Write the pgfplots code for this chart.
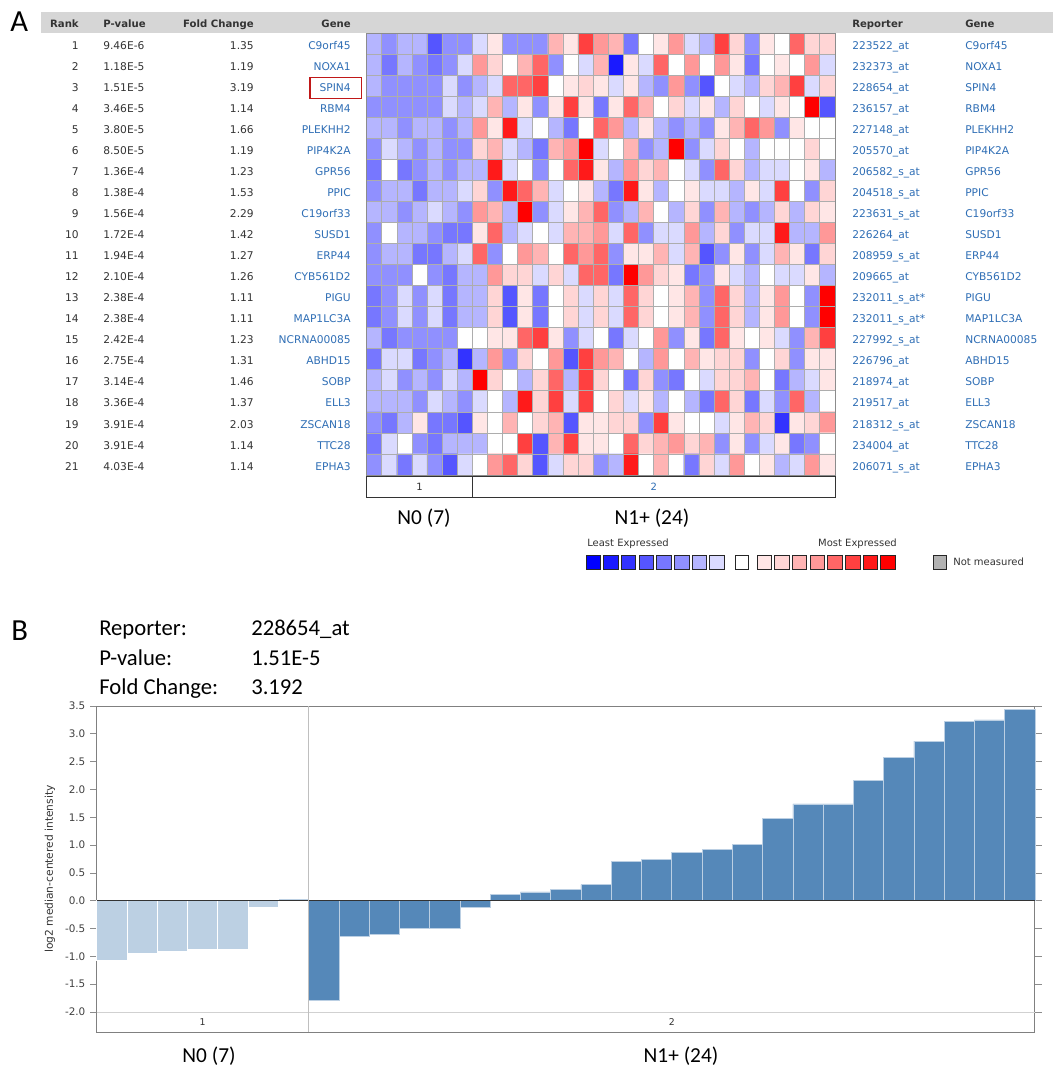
\documentclass[border=0pt]{standalone}
\usepackage{fontspec}
\setmainfont{DejaVu Sans}
\newfontfamily\calib{Carlito}
\usepackage{pgfplots}
\pgfplotsset{compat=1.18}
\definecolor{genebl}{RGB}{47,110,181}
\definecolor{txt}{RGB}{51,51,51}
\definecolor{hdr}{RGB}{214,214,214}
\definecolor{bardark}{RGB}{85,136,185}
\definecolor{barlight}{RGB}{188,208,227}
\definecolor{boxred}{RGB}{192,24,24}
\definecolor{h0}{RGB}{0,0,255}
\definecolor{h1}{RGB}{26,26,255}
\definecolor{h2}{RGB}{51,51,255}
\definecolor{h3}{RGB}{85,85,255}
\definecolor{h4}{RGB}{119,119,255}
\definecolor{h5}{RGB}{144,144,255}
\definecolor{h6}{RGB}{181,181,255}
\definecolor{h7}{RGB}{218,218,255}
\definecolor{h8}{RGB}{255,255,255}
\definecolor{h9}{RGB}{255,230,230}
\definecolor{h10}{RGB}{255,213,213}
\definecolor{h11}{RGB}{255,180,180}
\definecolor{h12}{RGB}{255,152,152}
\definecolor{h13}{RGB}{255,102,102}
\definecolor{h14}{RGB}{255,64,64}
\definecolor{h15}{RGB}{255,26,26}
\definecolor{h16}{RGB}{255,0,0}
\newcommand\tfont{\fontsize{8}{9.6}\selectfont}
\newcommand\hfont{\fontsize{7.6}{9}\selectfont\bfseries}
\newcommand\sfont{\fontsize{7.5}{9}\selectfont}
\begin{document}
\begin{tikzpicture}
\path[use as bounding box] (0,0) rectangle (789.75pt,-802.5pt);
\begin{scope}[x=0.75pt,y=-0.75pt]
\fill[hdr] (40.7,12.3) rectangle (1053,33.3);
\end{scope}
% ---------- heatmap ----------
\begin{axis}[
  at={(275.025pt,-24.975pt)}, anchor=north west,
  width=351.2pt, height=331.3pt, scale only axis,
  xmin=0.5, xmax=31.5, ymin=0.5, ymax=21.5, y dir=reverse,
  xtick={0.5,1.5,...,31.5}, ytick={0.5,1.5,...,21.5},
  xticklabels={}, yticklabels={}, major tick length=0pt,
  grid=major, major grid style={draw=black!32, line width=0.6pt},
  axis line style={draw=black!45, line width=0.6pt},
  axis on top,
  colormap={hm}{rgb255(0)=(0,0,255) rgb255(1)=(26,26,255) rgb255(2)=(51,51,255) rgb255(3)=(85,85,255) rgb255(4)=(119,119,255) rgb255(5)=(144,144,255) rgb255(6)=(181,181,255) rgb255(7)=(218,218,255) rgb255(8)=(255,255,255) rgb255(9)=(255,230,230) rgb255(10)=(255,213,213) rgb255(11)=(255,180,180) rgb255(12)=(255,152,152) rgb255(13)=(255,102,102) rgb255(14)=(255,64,64) rgb255(15)=(255,26,26) rgb255(16)=(255,0,0)},
  point meta min=-8, point meta max=8,
]
\addplot[matrix plot*, mesh/cols=31, point meta=explicit] table[row sep=\\, x expr={floor(mod(\coordindex+0.5,31))+1}, y expr={floor((\coordindex+0.5)/31)+1}, meta=v] {
v\\
-2\\ -3\\ -2\\ -2\\ -5\\ -3\\ -3\\ -1\\ 1\\ -3\\ -3\\ -3\\ 3\\ 1\\ 6\\ 4\\ 3\\ -4\\ 0\\ 1\\ 4\\ -1\\ -2\\ 6\\ 2\\ -3\\ 1\\ 0\\ 5\\ 2\\ 2\\
-2\\ -4\\ -2\\ -3\\ -4\\ -3\\ -1\\ 4\\ 2\\ 0\\ 3\\ 5\\ -3\\ 0\\ -1\\ 3\\ -7\\ 1\\ -1\\ 5\\ 0\\ 4\\ 0\\ 4\\ 1\\ -4\\ 0\\ 1\\ 0\\ 4\\ -1\\
-2\\ -3\\ -3\\ -3\\ -3\\ -1\\ -3\\ -2\\ -1\\ 5\\ 5\\ 6\\ 0\\ 1\\ 2\\ 1\\ -1\\ 1\\ -2\\ -3\\ 4\\ -3\\ -5\\ 0\\ -1\\ -2\\ 2\\ 3\\ 6\\ -1\\ 2\\
-3\\ -3\\ -3\\ -3\\ -3\\ -1\\ -2\\ -1\\ 3\\ -2\\ 1\\ -3\\ 1\\ 6\\ 1\\ -4\\ 1\\ 5\\ 3\\ 0\\ 2\\ -1\\ 1\\ -2\\ 2\\ 0\\ -1\\ 1\\ 0\\ 8\\ -5\\
-2\\ -2\\ -3\\ -2\\ -2\\ -3\\ -2\\ 4\\ 1\\ 7\\ -1\\ 0\\ -2\\ -4\\ 0\\ 5\\ 4\\ -2\\ 1\\ -2\\ -3\\ -2\\ -3\\ 1\\ 3\\ 5\\ 4\\ -3\\ 1\\ 0\\ 0\\
-3\\ -1\\ -2\\ -3\\ -2\\ -3\\ -3\\ 2\\ 3\\ -1\\ -2\\ -4\\ 3\\ 4\\ 8\\ -1\\ 0\\ 3\\ -3\\ -2\\ 8\\ -3\\ -1\\ 2\\ 0\\ -2\\ 0\\ 0\\ 0\\ 2\\ 0\\
-4\\ 0\\ -4\\ -3\\ -2\\ -3\\ -2\\ -2\\ 7\\ -1\\ 0\\ -3\\ 0\\ 5\\ 7\\ 1\\ -2\\ 4\\ 2\\ 3\\ 0\\ -1\\ -3\\ 5\\ 2\\ -2\\ -1\\ -1\\ 0\\ 1\\ -2\\
-3\\ -2\\ -2\\ -4\\ -2\\ -2\\ -1\\ 2\\ -3\\ 7\\ 5\\ 3\\ -1\\ 0\\ 1\\ -2\\ -4\\ 7\\ 1\\ -2\\ 0\\ 1\\ -1\\ -1\\ -2\\ 1\\ -1\\ 6\\ 0\\ -3\\ 2\\
-2\\ -2\\ -3\\ -2\\ -1\\ -2\\ -3\\ 4\\ 3\\ -2\\ 8\\ -3\\ -1\\ 1\\ 3\\ 5\\ -3\\ -2\\ 3\\ 0\\ -2\\ 2\\ -3\\ 3\\ -2\\ -3\\ -2\\ 2\\ -2\\ 2\\ 1\\
-3\\ 0\\ -2\\ -2\\ -3\\ -4\\ -4\\ 1\\ 5\\ -2\\ -1\\ 0\\ -1\\ 3\\ 3\\ 4\\ -1\\ 5\\ -3\\ -1\\ -1\\ 4\\ -2\\ 2\\ -3\\ -1\\ -1\\ 7\\ -2\\ -2\\ 4\\
-3\\ -2\\ -2\\ -4\\ -4\\ -2\\ -1\\ 5\\ -3\\ 0\\ 4\\ 3\\ 0\\ 5\\ 4\\ 5\\ -3\\ 1\\ 1\\ 3\\ -1\\ 3\\ -5\\ -3\\ 1\\ -3\\ -1\\ 3\\ 1\\ -4\\ 2\\
-3\\ -3\\ -3\\ 0\\ -3\\ -4\\ -2\\ -2\\ 4\\ 2\\ 2\\ -1\\ 2\\ -1\\ 5\\ 5\\ -4\\ 8\\ 4\\ 2\\ 1\\ -4\\ -3\\ 1\\ -1\\ -2\\ 0\\ -1\\ -1\\ 1\\ -2\\
-4\\ -3\\ -1\\ -3\\ -1\\ -4\\ -2\\ -2\\ 2\\ -5\\ 1\\ -4\\ 0\\ 2\\ -1\\ 2\\ -1\\ 5\\ 2\\ 0\\ 1\\ 3\\ -3\\ 5\\ 2\\ -2\\ 1\\ 4\\ 0\\ -3\\ 8\\
-4\\ -3\\ -1\\ -3\\ -1\\ -4\\ -2\\ -2\\ 2\\ -5\\ 1\\ -4\\ 0\\ 2\\ -1\\ 2\\ -1\\ 5\\ 2\\ 0\\ 1\\ 3\\ -3\\ 5\\ 2\\ -2\\ 1\\ 4\\ 0\\ -3\\ 8\\
-2\\ -4\\ -3\\ -3\\ -3\\ -3\\ 0\\ 0\\ 1\\ 1\\ 5\\ 6\\ 1\\ -3\\ -1\\ 0\\ -4\\ -1\\ 0\\ 4\\ -3\\ 1\\ -4\\ 5\\ 1\\ 0\\ 1\\ -1\\ -3\\ 3\\ 6\\
-4\\ -1\\ -1\\ -4\\ -3\\ -2\\ -6\\ -2\\ 4\\ -3\\ 2\\ 0\\ 4\\ -5\\ 6\\ 4\\ 3\\ 0\\ -2\\ 4\\ 0\\ 3\\ 1\\ 2\\ 2\\ -3\\ 0\\ 2\\ -3\\ 1\\ 1\\
-2\\ -1\\ -3\\ -2\\ -3\\ -1\\ -2\\ 8\\ 2\\ 0\\ -2\\ 2\\ 5\\ -2\\ 6\\ 2\\ 0\\ -4\\ 2\\ -3\\ -4\\ 0\\ -1\\ 2\\ 2\\ 3\\ 0\\ -4\\ -2\\ -1\\ 1\\
-2\\ -2\\ -2\\ -3\\ -1\\ -2\\ -3\\ -1\\ 0\\ -2\\ 7\\ 2\\ 6\\ -1\\ 6\\ 0\\ 2\\ -1\\ 1\\ -2\\ 0\\ -2\\ -4\\ 5\\ 2\\ -4\\ -1\\ -3\\ 5\\ -2\\ 0\\
-3\\ -4\\ -2\\ 1\\ -4\\ -4\\ -5\\ 1\\ 0\\ 3\\ 0\\ 2\\ 3\\ -5\\ 1\\ 1\\ 2\\ 2\\ -3\\ 6\\ 1\\ 0\\ 0\\ -1\\ 1\\ 3\\ 2\\ -6\\ 1\\ 2\\ 4\\
-4\\ -1\\ 0\\ -3\\ -4\\ -2\\ -2\\ -2\\ 0\\ 0\\ 6\\ -5\\ 3\\ 6\\ 1\\ 1\\ 0\\ 5\\ 2\\ 3\\ 4\\ 2\\ 3\\ -3\\ 1\\ -3\\ -1\\ 1\\ -4\\ -3\\ 0\\
-3\\ -1\\ -4\\ -1\\ -3\\ -5\\ -1\\ 0\\ 4\\ 5\\ 2\\ -5\\ -1\\ 2\\ 2\\ -3\\ -2\\ 7\\ 0\\ 3\\ 0\\ -4\\ 2\\ -1\\ 4\\ 0\\ 1\\ -2\\ -1\\ 4\\ 1\\
};
\end{axis}
% ---------- bar chart ----------
\begin{axis}[
  at={(72.525pt,-774pt)}, anchor=south west,
  width=703.7pt, height=244.5pt, scale only axis,
  xmin=0.5, xmax=31.5, ymin=-2.358, ymax=3.5,
  xtick=\empty, ytick={-2,-1.5,-1,-0.5,0,0.5,1,1.5,2,2.5,3,3.5},
  ytick pos=both, yticklabel pos=left, tick align=outside,
  major tick length=5pt,
  tick style={draw=black!45, line width=0.6pt},
  axis line style={draw=black!50, line width=0.75pt},
  yticklabel style={font=\fontsize{7.8}{9}\selectfont, text=black!75,
    /pgf/number format/fixed, /pgf/number format/fixed zerofill,
    /pgf/number format/precision=1, /pgf/number format/assume math mode=true},
  clip=false,
]
\addplot[ybar, bar width=1, bar shift=0pt, fill=barlight, draw=white, line width=0.5pt]
  coordinates {(1,-1.07) (2,-0.94) (3,-0.91) (4,-0.88) (5,-0.88) (6,-0.12) (7,0.04)};
\addplot[ybar, bar width=1, bar shift=0pt, fill=bardark, draw=white!60!bardark, line width=0.5pt]
  coordinates {(8,-1.79) (9,-0.63) (10,-0.60) (11,-0.49) (12,-0.49) (13,-0.11) (14,0.12) (15,0.16) (16,0.21) (17,0.29) (18,0.70) (19,0.74) (20,0.87) (21,0.93) (22,1.01) (23,1.48) (24,1.74) (25,1.74) (26,2.16) (27,2.57) (28,2.87) (29,3.23) (30,3.25) (31,3.44)};
\draw[black!80, line width=0.75pt] (axis cs:0.5,0) -- (axis cs:31.5,0);
\draw[black!18, line width=0.75pt] (axis cs:0.5,-2) -- (axis cs:31.5,-2);
\draw[black!25, line width=0.6pt] (axis cs:7.5,-2.358) -- (axis cs:7.5,3.5);
\node[font=\fontsize{7}{8}\selectfont, text=txt] at (axis cs:4,-2.18) {1};
\node[font=\fontsize{7}{8}\selectfont, text=txt] at (axis cs:19.5,-2.18) {2};
\end{axis}
% ---------- texts in image pixels ----------
\begin{scope}[x=0.75pt,y=-0.75pt]
\node[anchor=base west, inner sep=0, font=\calib\fontsize{23}{26}\selectfont] at (10,32) {A};
\node[anchor=mid east, inner sep=0, text=txt, font=\hfont] at (79,24) {Rank};
\node[anchor=mid west, inner sep=0, text=txt, font=\hfont] at (103,24) {P-value};
\node[anchor=mid east, inner sep=0, text=txt, font=\hfont] at (254,24) {Fold Change};
\node[anchor=mid east, inner sep=0, text=txt, font=\hfont] at (351,24) {Gene};
\node[anchor=mid west, inner sep=0, text=txt, font=\hfont] at (852,24) {Reporter};
\node[anchor=mid west, inner sep=0, text=txt, font=\hfont] at (965,24) {Gene};
\foreach \r/\pv/\fc/\gn/\rp in {
1/9.46E-6/1.35/C9orf45/223522\_at,
2/1.18E-5/1.19/NOXA1/232373\_at,
3/1.51E-5/3.19/SPIN4/228654\_at,
4/3.46E-5/1.14/RBM4/236157\_at,
5/3.80E-5/1.66/PLEKHH2/227148\_at,
6/8.50E-5/1.19/PIP4K2A/205570\_at,
7/1.36E-4/1.23/GPR56/206582\_s\_at,
8/1.38E-4/1.53/PPIC/204518\_s\_at,
9/1.56E-4/2.29/C19orf33/223631\_s\_at,
10/1.72E-4/1.42/SUSD1/226264\_at,
11/1.94E-4/1.27/ERP44/208959\_s\_at,
12/2.10E-4/1.26/CYB561D2/209665\_at,
13/2.38E-4/1.11/PIGU/232011\_s\_at*,
14/2.38E-4/1.11/MAP1LC3A/232011\_s\_at*,
15/2.42E-4/1.23/NCRNA00085/227992\_s\_at,
16/2.75E-4/1.31/ABHD15/226796\_at,
17/3.14E-4/1.46/SOBP/218974\_at,
18/3.36E-4/1.37/ELL3/219517\_at,
19/3.91E-4/2.03/ZSCAN18/218312\_s\_at,
20/3.91E-4/1.14/TTC28/234004\_at,
21/4.03E-4/1.14/EPHA3/206071\_s\_at}{
  \pgfmathsetmacro\yc{35.3+21.03*(\r-0.5)}
  \node[anchor=mid east, inner sep=0, font=\tfont, text=txt] at (79,\yc) {\r};
  \node[anchor=mid west, inner sep=0, font=\tfont, text=txt] at (103,\yc) {\pv};
  \node[anchor=mid east, inner sep=0, font=\tfont, text=txt] at (254,\yc) {\fc};
  \node[anchor=mid east, inner sep=0, font=\tfont, text=genebl] at (351,\yc) {\gn};
  \node[anchor=mid west, inner sep=0, font=\tfont, text=genebl] at (852,\yc) {\rp};
  \node[anchor=mid west, inner sep=0, font=\tfont, text=genebl] at (965,\yc) {\gn};
}
\draw[boxred, line width=1.1pt] (310,77.7) rectangle (361.7,98.3);
% group strip under heatmap
\draw[black!80, line width=0.6pt] (366.7,476) rectangle (835,497);
\draw[black!80, line width=0.6pt] (472.5,476) -- (472.5,497);
\node[inner sep=0, font=\sfont, text=txt] at (419.6,486.5) {1};
\node[inner sep=0, font=\sfont, text=genebl] at (653.8,486.5) {2};
\node[inner sep=0, font=\calib\fontsize{16}{19}\selectfont] at (424,518) {N0 (7)};
\node[inner sep=0, font=\calib\fontsize{16}{19}\selectfont] at (652,518) {N1+ (24)};
% colour legend
\node[anchor=mid west, inner sep=0, font=\sfont, text=txt] at (587,543) {Least Expressed};
\node[anchor=mid east, inner sep=0, font=\sfont, text=txt] at (897,543) {Most Expressed};
\foreach \i in {0,...,7}{
  \pgfmathsetmacro\xx{586+17.7*\i}
  \draw[black!85, line width=0.75pt, fill=h\i] (\xx,555) rectangle ++(14.5,14.5);
}
\draw[black!85, line width=0.75pt, fill=white] (735,555) rectangle ++(13.5,14.5);
\foreach \j [evaluate=\j as \k using int(\j+9)] in {0,...,7}{
  \pgfmathsetmacro\xx{757+17.7*\j}
  \draw[black!85, line width=0.75pt, fill=h\k] (\xx,555) rectangle ++(14.5,14.5);
}
\draw[black!85, line width=0.75pt, fill=black!30] (933,555) rectangle ++(13.5,14.5);
\node[anchor=mid west, inner sep=0, font=\sfont, text=txt] at (953,562) {Not measured};
% panel B texts
\node[anchor=base west, inner sep=0, font=\calib\fontsize{23}{26}\selectfont] at (11,640) {B};
\node[anchor=base west, inner sep=0, font=\calib\fontsize{17}{20}\selectfont] at (99,635) {Reporter:};
\node[anchor=base west, inner sep=0, font=\calib\fontsize{17}{20}\selectfont] at (251,635) {228654\_at};
\node[anchor=base west, inner sep=0, font=\calib\fontsize{17}{20}\selectfont] at (99,665) {P-value:};
\node[anchor=base west, inner sep=0, font=\calib\fontsize{17}{20}\selectfont] at (251,665) {1.51E-5};
\node[anchor=base west, inner sep=0, font=\calib\fontsize{17}{20}\selectfont] at (99,694) {Fold Change:};
\node[anchor=base west, inner sep=0, font=\calib\fontsize{17}{20}\selectfont] at (251,694) {3.192};
\node[rotate=90, inner sep=0, font=\fontsize{8}{9.6}\selectfont, text=txt] at (50,869) {log2 median-centered intensity};
\node[inner sep=0, font=\calib\fontsize{16}{19}\selectfont] at (209,1056) {N0 (7)};
\node[inner sep=0, font=\calib\fontsize{16}{19}\selectfont] at (681,1056) {N1+ (24)};
\end{scope}
\end{tikzpicture}
\end{document}
